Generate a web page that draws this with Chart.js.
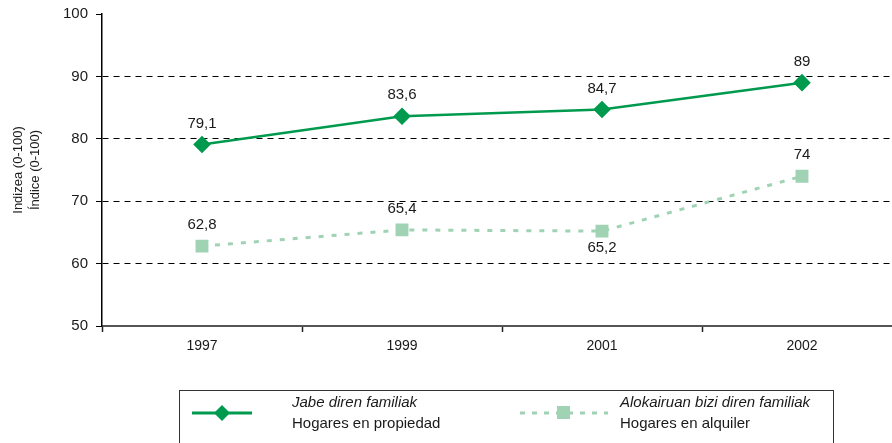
<!DOCTYPE html>
<html>
<head>
<meta charset="utf-8">
<script src="https://cdn.jsdelivr.net/npm/chart.js@4"></script>
<style>
  html, body { margin: 0; padding: 0; background: #fff; overflow: hidden; }
  #wrap { width: 892px; height: 443px; overflow: hidden; }
  #lineChart { display: block; }
</style>
</head>
<body>
<div id="wrap"><canvas id="lineChart" width="912" height="443" style="width:912px;height:443px"></canvas></div>
<script>
// data
const years = ['1997', '1999', '2001', '2002'];
const owners = [79.1, 83.6, 84.7, 89];
const renters = [62.8, 65.4, 65.2, 74];
const ownersName = ['Jabe diren familiak', 'Hogares en propiedad'];
const rentersName = ['Alokairuan bizi diren familiak', 'Hogares en alquiler'];
const yMin = 50, yMax = 100, yStep = 10;
const yTitle = ['Indizea (0-100)', 'Índice (0-100)'];

const darkGreen = '#009a4e';
const lightGreen = '#9fd3b4';
const fontFamily = "'Liberation Sans', Arial, sans-serif";

function fmt(v) {
  return String(v).replace('.', ',');
}

// value labels next to each point (65,2 goes under its marker)
const valueLabels = {
  id: 'valueLabels',
  afterDatasetsDraw(chart) {
    const ctx = chart.ctx;
    ctx.save();
    ctx.font = '15px ' + fontFamily;
    ctx.fillStyle = '#1a1a1a';
    ctx.textAlign = 'center';
    ctx.textBaseline = 'middle';
    chart.data.datasets.forEach((ds, di) => {
      const meta = chart.getDatasetMeta(di);
      meta.data.forEach((pt, i) => {
        let below = (di == 1 && i == 2);
        let y = below ? pt.y + 17 : pt.y - 21;
        ctx.fillText(fmt(ds.data[i]), pt.x, y);
      });
    });
    ctx.restore();
  }
};

// legend box at the bottom, drawn by hand
const boxLegend = {
  id: 'boxLegend',
  afterDraw(chart) {
    const ctx = chart.ctx;
    ctx.save();
    ctx.strokeStyle = '#333';
    ctx.lineWidth = 1;
    ctx.strokeRect(179.5, 390.5, 654, 70);

    // owners sample
    ctx.strokeStyle = darkGreen;
    ctx.lineWidth = 3;
    ctx.beginPath();
    ctx.moveTo(192, 413);
    ctx.lineTo(252, 413);
    ctx.stroke();
    ctx.fillStyle = darkGreen;
    ctx.beginPath();
    ctx.moveTo(222, 405);
    ctx.lineTo(230, 413);
    ctx.lineTo(222, 421);
    ctx.lineTo(214, 413);
    ctx.closePath();
    ctx.fill();

    // renters sample
    ctx.strokeStyle = lightGreen;
    ctx.setLineDash([5, 7]);
    ctx.beginPath();
    ctx.moveTo(520, 413);
    ctx.lineTo(608, 413);
    ctx.stroke();
    ctx.setLineDash([]);
    ctx.fillStyle = lightGreen;
    ctx.fillRect(557, 406, 13, 13);

    ctx.fillStyle = '#1a1a1a';
    ctx.textBaseline = 'middle';
    ctx.textAlign = 'left';
    ctx.font = 'italic 15px ' + fontFamily;
    ctx.fillText(ownersName[0], 292, 403);
    ctx.fillText(rentersName[0], 620, 403);
    ctx.font = '15px ' + fontFamily;
    ctx.fillText(ownersName[1], 292, 424);
    ctx.fillText(rentersName[1], 620, 424);
    ctx.restore();
  }
};

new Chart(document.getElementById('lineChart'), {
  type: 'line',
  data: {
    labels: years,
    datasets: [{
      label: ownersName.join(' / '),
      data: owners,
      borderColor: darkGreen,
      backgroundColor: darkGreen,
      borderWidth: 2.5,
      pointStyle: 'rectRot',
      pointRadius: 7,
      pointHoverRadius: 7,
      tension: 0
    }, {
      label: rentersName.join(' / '),
      data: renters,
      borderColor: lightGreen,
      backgroundColor: lightGreen,
      borderWidth: 3,
      borderDash: [5, 8],
      pointStyle: 'rect',
      pointRadius: 7,
      pointHoverRadius: 7,
      tension: 0
    }]
  },
  options: {
    responsive: false,
    animation: false,
    layout: { padding: { top: 14, right: 0, bottom: 0, left: 0 } },
    plugins: {
      legend: { display: false },
      tooltip: { enabled: false }
    },
    scales: {
      x: {
        offset: true,
        afterFit(s) { s.height = 117; },
        grid: {
          offset: true,
          drawOnChartArea: false,
          tickLength: 6,
          tickColor: '#222',
          tickWidth: 1.5
        },
        border: { color: '#555', width: 2 },
        ticks: {
          color: '#1a1a1a',
          padding: 6,
          font: { family: fontFamily, size: 14 }
        }
      },
      y: {
        min: yMin,
        max: yMax,
        afterFit(s) {
          s.width = 102;
          s.paddingTop = 0;
          s.paddingBottom = 0;
        },
        ticks: {
          stepSize: yStep,
          color: '#1a1a1a',
          padding: 8,
          font: { family: fontFamily, size: 15 }
        },
        grid: {
          color: c => (c.tick && (c.tick.value == yMin || c.tick.value == yMax)) ? 'rgba(0,0,0,0)' : '#000',
          tickColor: '#000',
          tickLength: 6,
          lineWidth: 1
        },
        border: { color: '#000', width: 1.5, dash: [6, 5] },
        title: {
          display: true,
          text: yTitle,
          color: '#1a1a1a',
          padding: { top: 10, bottom: 0 },
          font: { family: fontFamily, size: 13, lineHeight: 1.3 }
        }
      }
    }
  },
  plugins: [valueLabels, boxLegend]
});
</script>
</body>
</html>
